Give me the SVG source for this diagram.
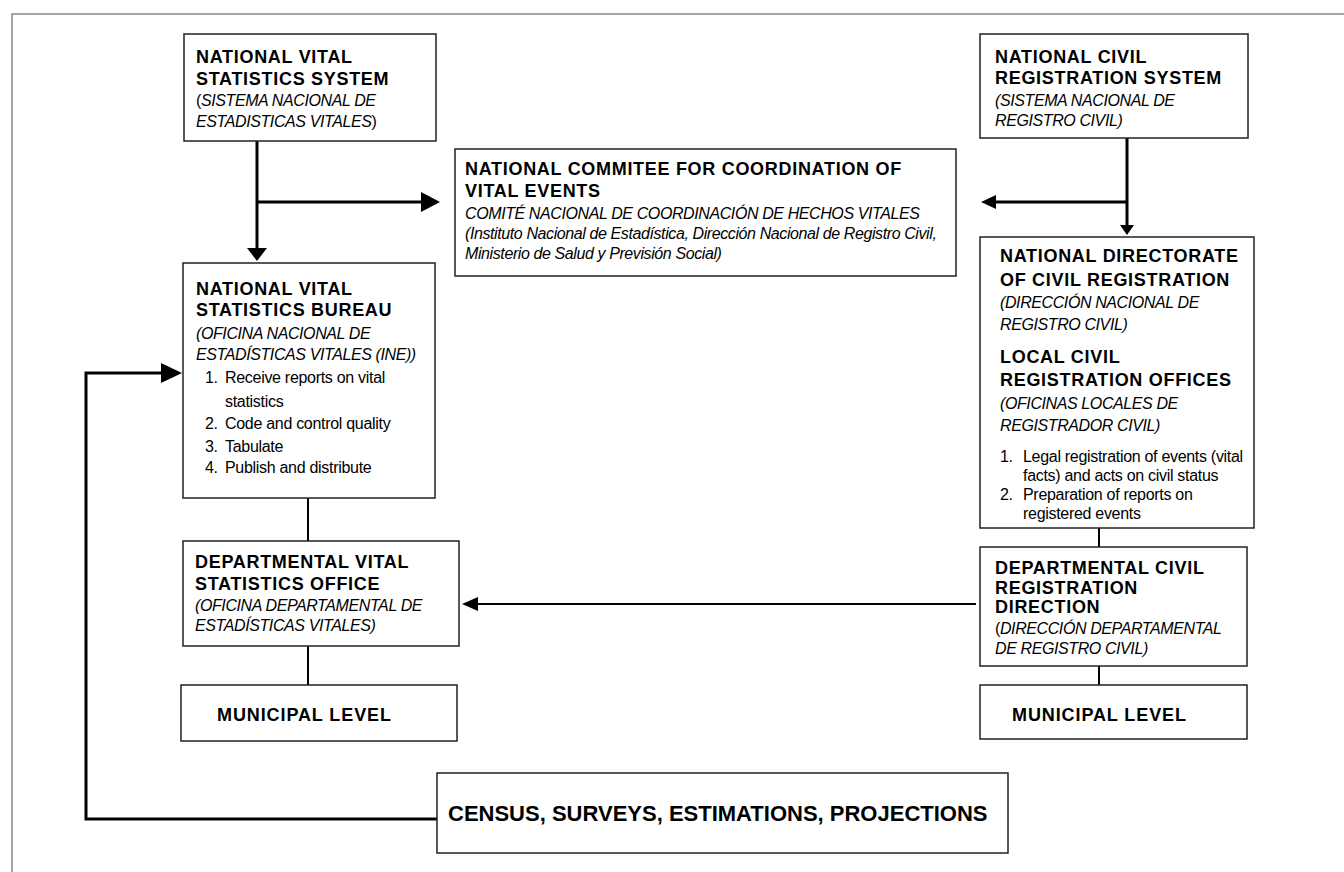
<svg xmlns="http://www.w3.org/2000/svg" width="1344" height="872" viewBox="0 0 1344 872">
<style>
text{font-family:"Liberation Sans",Arial,sans-serif;fill:#000}
.h{font-size:18px;font-weight:bold;letter-spacing:0.7px}
.i{font-size:16px;font-style:italic;letter-spacing:-0.4px}
.u{font-style:normal}
.t{font-size:16px;letter-spacing:-0.3px}
.m{font-size:18px;font-weight:bold;letter-spacing:0.9px}
.c{font-size:22px;font-weight:bold}
.box{fill:#fff;stroke:#222;stroke-width:1.5}
.frame{fill:none;stroke:#888;stroke-width:1.5}
.ln{fill:none;stroke:#000;stroke-width:3}
.ln2{fill:none;stroke:#000;stroke-width:2}
.ah{fill:#000;stroke:none}
</style>
<path class="frame" d="M12,872 V14 H1344"/>
<g id="connectors">
<path class="ln" d="M257,141 V249"/>
<polygon class="ah" points="247,248 267,248 257,261"/>
<path class="ln" d="M257,202 H422"/>
<polygon class="ah" points="421,192 421,212 440,202"/>
<path class="ln" d="M1127,138 V226"/>
<polygon class="ah" points="1120,225 1134,225 1127,235"/>
<path class="ln" d="M1127,202 H995"/>
<polygon class="ah" points="996,195 996,209 981,202"/>
<polyline class="ln" points="162,373 86,373 86,819 437,819"/>
<polygon class="ah" points="161,363 161,383 182,373"/>
<path class="ln2" d="M976,604 H477"/>
<polygon class="ah" points="478,597 478,611 462,604"/>
<path class="ln2" d="M308,498 V541"/>
<path class="ln2" d="M308,646 V685"/>
<path class="ln2" d="M1099,528 V547"/>
<path class="ln2" d="M1099,666 V685"/>
</g>
<g id="nvss">
<rect class="box" x="184" y="34" width="252" height="107"/>
<text class="h" x="196" y="63">NATIONAL VITAL</text>
<text class="h" x="196" y="85">STATISTICS SYSTEM</text>
<text class="i" x="196" y="106"><tspan class="u">(</tspan>SISTEMA NACIONAL DE</text>
<text class="i" x="196" y="127">ESTADISTICAS VITALES<tspan class="u">)</tspan></text>
</g>
<g id="committee">
<rect class="box" x="455" y="149" width="501" height="127"/>
<text class="h" x="465" y="175">NATIONAL COMMITEE FOR COORDINATION OF</text>
<text class="h" x="465" y="197">VITAL EVENTS</text>
<text class="i" x="465" y="219">COMITÉ NACIONAL DE COORDINACIÓN DE HECHOS VITALES</text>
<text class="i" x="465" y="239">(Instituto Nacional de Estadística, Dirección Nacional de Registro Civil,</text>
<text class="i" x="465" y="259">Ministerio de Salud y Previsión Social)</text>
</g>
<g id="ncrs">
<rect class="box" x="980" y="34" width="268" height="104"/>
<text class="h" x="995" y="63">NATIONAL CIVIL</text>
<text class="h" x="995" y="84">REGISTRATION SYSTEM</text>
<text class="i" x="995" y="106">(SISTEMA NACIONAL DE</text>
<text class="i" x="995" y="126">REGISTRO CIVIL)</text>
</g>
<g id="bureau">
<rect class="box" x="183" y="263" width="252" height="235"/>
<text class="h" x="196" y="295">NATIONAL VITAL</text>
<text class="h" x="196" y="316">STATISTICS BUREAU</text>
<text class="i" x="196" y="339">(OFICINA NACIONAL DE</text>
<text class="i" x="196" y="360">ESTADÍSTICAS VITALES (INE))</text>
<text class="t" x="205" y="383">1.</text><text class="t" x="225" y="383">Receive reports on vital</text>
<text class="t" x="225" y="407">statistics</text>
<text class="t" x="205" y="429">2.</text><text class="t" x="225" y="429">Code and control quality</text>
<text class="t" x="205" y="452">3.</text><text class="t" x="225" y="452">Tabulate</text>
<text class="t" x="205" y="473">4.</text><text class="t" x="225" y="473">Publish and distribute</text>
</g>
<g id="directorate">
<rect class="box" x="980" y="237" width="274" height="291"/>
<text class="h" x="1000" y="262">NATIONAL DIRECTORATE</text>
<text class="h" x="1000" y="286">OF CIVIL REGISTRATION</text>
<text class="i" x="1000" y="308">(DIRECCIÓN NACIONAL DE</text>
<text class="i" x="1000" y="330">REGISTRO CIVIL)</text>
<text class="h" x="1000" y="363">LOCAL CIVIL</text>
<text class="h" x="1000" y="386">REGISTRATION OFFICES</text>
<text class="i" x="1000" y="409">(OFICINAS LOCALES DE</text>
<text class="i" x="1000" y="431">REGISTRADOR CIVIL)</text>
<text class="t" x="1000" y="462">1.</text><text class="t" x="1023" y="462">Legal registration of events (vital</text>
<text class="t" x="1023" y="481">facts) and acts on civil status</text>
<text class="t" x="1000" y="500">2.</text><text class="t" x="1023" y="500">Preparation of reports on</text>
<text class="t" x="1023" y="519">registered events</text>
</g>
<g id="dvso">
<rect class="box" x="183" y="541" width="276" height="105"/>
<text class="h" x="195" y="568">DEPARTMENTAL VITAL</text>
<text class="h" x="195" y="590">STATISTICS OFFICE</text>
<text class="i" x="195" y="611">(OFICINA DEPARTAMENTAL DE</text>
<text class="i" x="195" y="631">ESTADÍSTICAS VITALES)</text>
</g>
<g id="dcrd">
<rect class="box" x="980" y="547" width="267" height="119"/>
<text class="h" x="995" y="574">DEPARTMENTAL CIVIL</text>
<text class="h" x="995" y="594">REGISTRATION</text>
<text class="h" x="995" y="613">DIRECTION</text>
<text class="i" x="995" y="634"><tspan class="u">(</tspan>DIRECCIÓN DEPARTAMENTAL</text>
<text class="i" x="995" y="654">DE REGISTRO CIVIL)</text>
</g>
<g id="municipal-left">
<rect class="box" x="181" y="685" width="276" height="56"/>
<text class="m" x="217" y="721">MUNICIPAL LEVEL</text>
</g>
<g id="municipal-right">
<rect class="box" x="980" y="685" width="267" height="54"/>
<text class="m" x="1012" y="721">MUNICIPAL LEVEL</text>
</g>
<g id="census">
<rect class="box" x="437" y="773" width="571" height="80"/>
<text class="c" x="448" y="821">CENSUS, SURVEYS, ESTIMATIONS, PROJECTIONS</text>
</g>
</svg>
